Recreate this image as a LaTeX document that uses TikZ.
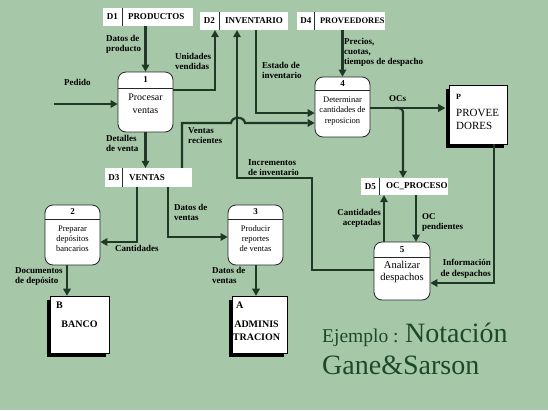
\documentclass[tikz,border=0pt]{standalone}
\usepackage{fontspec}
\setmainfont{Liberation Serif}
\usetikzlibrary{arrows.meta,calc,shadows}
\definecolor{bg}{RGB}{166,200,168}
\definecolor{ln}{RGB}{32,56,38}
\definecolor{ttl}{RGB}{28,72,44}
\tikzset{
  flow/.style={draw=ln, line width=2.2pt, -{Triangle[length=7pt,width=8pt,line width=0pt]}},
  store/.style={rectangle, fill=white, inner sep=0pt},
  div/.style={draw=ln, line width=1pt},
  stid/.style={font=\bfseries\fontsize{9}{11}\selectfont, inner sep=0pt},
  stname/.style={font=\bfseries\fontsize{9}{11}\selectfont, inner sep=0pt, anchor=west},
  proc/.style={rectangle, rounded corners=8pt, draw=black!85, line width=0.8pt, fill=white, minimum width=55pt, minimum height=60pt, inner sep=0pt},
  hdr/.style={draw=black!85, line width=0.8pt},
  pnum/.style={font=\bfseries\fontsize{9}{11}\selectfont, inner sep=0pt},
  ptxt/.style={align=center, inner sep=0pt},
  ent/.style={rectangle, draw=black, line width=0.6pt, fill=white, inner sep=0pt,
    drop shadow={shadow xshift=-3.5pt, shadow yshift=-3.5pt, fill=black, opacity=1}},
  lbl/.style={font=\bfseries\fontsize{9}{10.5}\selectfont, inner sep=0pt, align=left, anchor=north west},
  lblr/.style={font=\bfseries\fontsize{9}{10.5}\selectfont, inner sep=0pt, align=right, anchor=north east},
}
\begin{document}
\begin{tikzpicture}[x=1pt,y=-1pt]
\useasboundingbox (0,0) rectangle (548,410);
\fill[bg] (0,0) rectangle (548,410);

% ---------- data stores ----------
\node[store, minimum width=90pt, minimum height=18pt] (d1) at (148,17) {};
\draw[div] ([xshift=20pt]d1.north west) -- ([xshift=20pt]d1.south west);
\node[stid] at ([xshift=9.5pt]d1.west) {D1};
\node[stname] at ([xshift=25pt]d1.west) {PRODUCTOS};

\node[store, minimum width=88pt, minimum height=18pt] (d2) at (244,21) {};
\draw[div] ([xshift=20pt]d2.north west) -- ([xshift=20pt]d2.south west);
\node[stid] at ([xshift=9.5pt]d2.west) {D2};
\node[stname] at ([xshift=25pt]d2.west) {INVENTARIO};

\node[store, minimum width=88pt, minimum height=18pt] (d4) at (341,21) {};
\draw[div] ([xshift=18pt]d4.north west) -- ([xshift=18pt]d4.south west);
\node[stid] at ([xshift=9pt]d4.west) {D4};
\node[stname, font=\bfseries\fontsize{8.5}{10}\selectfont] at ([xshift=23pt]d4.west) {PROVEEDORES};

\node[store, minimum width=87pt, minimum height=19pt] (d3) at (148.5,177.5) {};
\draw[div] ([xshift=18pt]d3.north west) -- ([xshift=18pt]d3.south west);
\node[stid] at ([xshift=9pt]d3.west) {D3};
\node[stname] at ([xshift=24pt]d3.west) {VENTAS};

\node[store, minimum width=87pt, minimum height=17pt] (d5) at (404.5,186.5) {};
\draw[div] ([xshift=19pt]d5.north west) -- ([xshift=19pt]d5.south west);
\node[stid] at ([xshift=9.5pt]d5.west) {D5};
\node[stname] at ([xshift=25pt]d5.west) {OC\_PROCESO};

% ---------- processes ----------
\node[proc] (p1) at (145.5,102) {};
\draw[hdr] (p1.west |- 0,88) -- (p1.east |- 0,88);
\node[pnum] at (p1.center |- 0,80) {1};
\node[ptxt, font=\fontsize{10}{12.5}\selectfont] at (p1.center |- 0,104) {Procesar\\ventas};

\node[proc] (p4) at (342.5,107) {};
\draw[hdr] (p4.west |- 0,90) -- (p4.east |- 0,90);
\node[pnum] at (p4.center |- 0,84) {4};
\node[ptxt, font=\fontsize{8.5}{10.5}\selectfont] at (p4.center |- 0,111) {Determinar\\cantidades de\\reposicion};

\node[proc] (p2) at (72.5,235) {};
\draw[hdr] (p2.west |- 0,219) -- (p2.east |- 0,219);
\node[pnum] at (p2.center |- 0,212) {2};
\node[ptxt, font=\fontsize{8.5}{10}\selectfont] at (p2.center |- 0,239) {Preparar\\depósitos\\bancarios};

\node[proc] (p3) at (255.5,235) {};
\draw[hdr] (p3.west |- 0,219) -- (p3.east |- 0,219);
\node[pnum] at (p3.center |- 0,212) {3};
\node[ptxt, font=\fontsize{8.5}{10}\selectfont] at (p3.center |- 0,239) {Producir\\reportes\\de ventas};

\node[proc, minimum width=56pt, minimum height=58pt] (p5) at (402,271) {};
\draw[hdr] (p5.west |- 0,257) -- (p5.east |- 0,257);
\node[pnum] at (p5.center |- 0,250) {5};
\node[ptxt, font=\fontsize{10.5}{12}\selectfont] at (p5.center |- 0,272) {Analizar\\despachos};

% ---------- external entities ----------
\node[ent, minimum width=58pt, minimum height=59pt] (P) at (478,114.5) {};
\node[inner sep=0pt, anchor=north west, font=\bfseries\fontsize{8}{9}\selectfont] at (456,94) {P};
\node[inner sep=0pt, anchor=north west, align=left, font=\fontsize{11}{13}\selectfont] at (456,109) {PROVEE\\DORES};

\node[ent, minimum width=59pt, minimum height=57pt] (B) at (79.5,324.5) {};
\node[inner sep=0pt, anchor=north west, font=\bfseries\fontsize{10}{12}\selectfont] at (56,302) {B};
\node[inner sep=0pt, font=\bfseries\fontsize{10}{12}\selectfont] at (79.5,324) {BANCO};

\node[ent, minimum width=55pt, minimum height=57pt] (A) at (259.5,324.5) {};
\node[inner sep=0pt, anchor=north west, font=\bfseries\fontsize{10}{12}\selectfont] at (236,302) {A};
\node[inner sep=0pt, align=center, font=\bfseries\fontsize{10}{13}\selectfont] at (256.5,330.5) {ADMINIS\\TRACION};

% ---------- flows ----------
\coordinate (ped) at (54,104);
\draw[flow] (ped) -- (ped -| p1.west);
\node[lbl] at (64,79) {Pedido};

\draw[flow] (p1.north |- d1.south) -- (p1.north);
\node[lbl] at (106,35) {Datos de\\producto};

\coordinate (uv) at (215,90);
\draw[flow] (uv -| p1.east) -- (uv) -- (uv |- d2.south);
\node[lbl] at (175,53) {Unidades\\vendidas};

\draw[flow] (p1.south) -- (p1.south |- d3.north);
\node[lbl] at (106,135) {Detalles\\de venta};

\coordinate (ei) at (256,113);
\draw[flow] (ei |- d2.south) -- (ei) -- (ei -| p4.west);
\node[lbl] at (262,62) {Estado de\\inventario};

\draw[flow] (p4.north |- d4.south) -- (p4.north);
\node[lbl, font=\bfseries\fontsize{9}{10}\selectfont] at (344,38) {Precios,\\cuotas,\\tiempos de despacho};

\coordinate (vr) at (182,123);
\coordinate (h1) at (231,123);
\coordinate (h2) at (245,123);
\draw[flow] (vr |- d3.north) -- (vr) -- (h1) .. controls (232,116) and (244,116) .. (h2) -- (vr -| p4.west);
\node[lbl] at (188,127) {Ventas\\recientes};

\coordinate (i1) at (312,270);
\coordinate (i2) at (312,178);
\coordinate (i3) at (237,178);
\draw[flow] (i1 -| p5.west) -- (i1) -- (i2) -- (i3) -- (i3 |- d2.south);
\node[lbl] at (248,159) {Incrementos\\de inventario};

\coordinate (oc) at (0,108);
\draw[flow] (oc -| p4.east) -- ([xshift=-3.5pt]oc -| P.west);
\node[lbl] at (389,95) {OCs};

\coordinate (brs) at (395,108);
\coordinate (br) at (403,108);
\draw[flow, rounded corners=4pt] (brs) -- (br) -- (br |- d5.north);

\coordinate (idp) at (494,283);
\draw[flow] (idp |- P.south) -- (idp) -- (idp -| p5.east);
\node[lblr] at (491,259) {Información\\de despachos};

\coordinate (ca) at (384,0);
\draw[flow] (ca |- p5.north) -- (ca |- d5.south);
\node[lblr] at (381,209) {Cantidades\\aceptadas};

\coordinate (op) at (416,0);
\draw[flow] (op |- d5.south) -- (op |- p5.north);
\node[lbl] at (422,213) {OC\\pendientes};

\coordinate (c1) at (137,242);
\draw[flow] (c1 |- d3.south) -- (c1) -- (c1 -| p2.east);
\node[lbl] at (115,245) {Cantidades};

\coordinate (dv) at (168,237);
\draw[flow] (dv |- d3.south) -- (dv) -- (dv -| p3.west);
\node[lbl] at (174,204) {Datos de\\ventas};

\coordinate (dd) at (67,0);
\draw[flow] (dd |- p2.south) -- (dd |- B.north);
\node[lbl] at (15,267) {Documentos\\de depósito};

\coordinate (da) at (256,0);
\draw[flow] (da |- p3.south) -- (da |- A.north);
\node[lbl] at (212,267) {Datos de\\ventas};

% ---------- title ----------
\node[inner sep=0pt, anchor=base west, text=ttl] (t1) at (322,342) {\fontsize{19.5}{22}\selectfont Ejemplo : \fontsize{28}{32}\selectfont Notación};
\node[inner sep=0pt, anchor=base west, text=ttl, font=\fontsize{28}{32}\selectfont] (t2) at (322,374) {Gane\&Sarson};
\end{tikzpicture}
\end{document}
